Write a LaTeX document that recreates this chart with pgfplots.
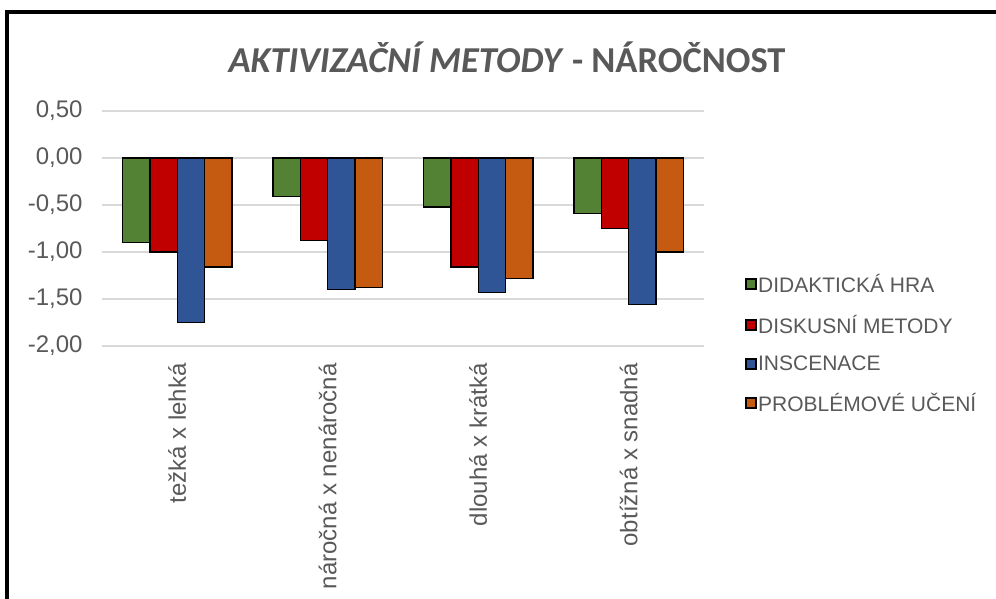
\documentclass[border=0pt]{standalone}
\usepackage{fontspec}
\setmainfont{Liberation Sans}
\newfontfamily\titlefont{Carlito}
\usepackage{pgfplots}
\pgfplotsset{compat=1.18}
\definecolor{cgreen}{HTML}{548235}
\definecolor{cred}{HTML}{C00000}
\definecolor{cblue}{HTML}{2F5597}
\definecolor{corange}{HTML}{C55A11}
\definecolor{txtgray}{HTML}{595959}
\definecolor{gridgray}{HTML}{D9D9D9}
\pgfplotsset{
  sqlegend/.style={legend image code/.code={\draw[##1, draw=black, line width=1.5pt] (0pt,-5pt) rectangle (10pt,5pt);}}
}
\begin{document}
\begin{tikzpicture}
\useasboundingbox (0pt,-598pt) rectangle (996pt,0pt);
\draw[line width=3.5pt] (7pt,-602pt) -- (7pt,-12pt) -- (1000pt,-12pt);
\node[font=\titlefont\fontsize{36.5}{44}\selectfont\bfseries, text=txtgray] at (507pt,-57pt) {\textit{AKTIVIZAČNÍ METODY} - NÁROČNOST};
\begin{axis}[
  at={(102pt,-346pt)}, anchor=south west,
  scale only axis, width=602pt, height=235pt,
  ybar=0pt, bar width=27.3pt,
  xmin=-0.5, xmax=3.5, ymin=-2, ymax=0.5,
  xtick={0,1,2,3},
  xticklabels={težká x lehká, náročná x nenáročná, dlouhá x krátká, obtížná x snadná},
  ytick={-2,-1.5,-1,-0.5,0,0.5},
  ymajorgrids, grid style={draw=gridgray, line width=1.3pt},
  axis line style={draw=none}, major tick length=0pt,
  tick label style={font=\fontsize{24}{28}\selectfont, text=txtgray},
  yticklabel style={/pgf/number format/.cd, fixed, fixed zerofill, precision=2, use comma, assume math mode=true},
  yticklabel shift=16pt,
  xticklabel style={rotate=90, anchor=east},
  xticklabel shift=14pt,
  clip=false,
  legend cell align=left,
  legend style={draw=none, fill=none, at={(1.068,0.0106)}, anchor=west, inner sep=0pt,
    font=\fontsize{21}{25}\selectfont, text=txtgray, row sep=18pt, nodes={inner sep=1.5pt}},
]
\addplot[sqlegend, fill=cgreen, draw=black, line width=1.4pt] coordinates {(0,-0.90) (1,-0.41) (2,-0.52) (3,-0.59)};
\addplot[sqlegend, fill=cred, draw=black, line width=1.4pt] coordinates {(0,-1.00) (1,-0.88) (2,-1.16) (3,-0.75)};
\addplot[sqlegend, fill=cblue, draw=black, line width=1.4pt] coordinates {(0,-1.75) (1,-1.40) (2,-1.43) (3,-1.56)};
\addplot[sqlegend, fill=corange, draw=black, line width=1.4pt] coordinates {(0,-1.16) (1,-1.38) (2,-1.28) (3,-1.00)};
\legend{DIDAKTICKÁ HRA, DISKUSNÍ METODY, INSCENACE, PROBLÉMOVÉ UČENÍ}
\end{axis}
\end{tikzpicture}
\end{document}
